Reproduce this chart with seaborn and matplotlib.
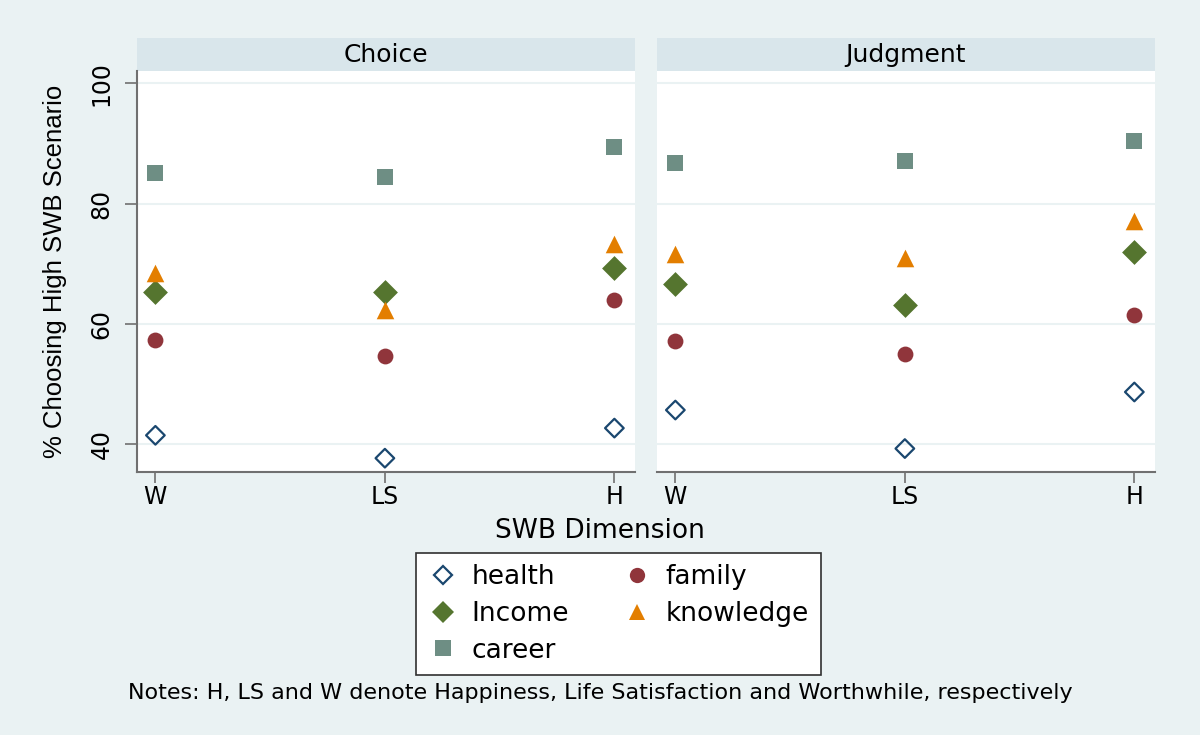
import pandas as pd
import matplotlib.pyplot as plt
import seaborn as sns
from matplotlib.patches import Rectangle
from matplotlib.lines import Line2D

# datos
dimensiones = ['W', 'LS', 'H']
paneles = ['Choice', 'Judgment']

choice_health = [41.5, 37.7, 42.7]
choice_family = [57.3, 54.6, 64.0]
choice_income = [65.3, 65.3, 69.3]
choice_knowledge = [68.4, 62.3, 73.3]
choice_career = [85.1, 84.4, 89.4]

judgment_health = [45.7, 39.3, 48.7]
judgment_family = [57.1, 55.0, 61.5]
judgment_income = [66.7, 63.2, 72.0]
judgment_knowledge = [71.6, 70.9, 77.2]
judgment_career = [86.7, 87.1, 90.4]

series = ['health', 'family', 'Income', 'knowledge', 'career']
valores = {
    'Choice': [choice_health, choice_family, choice_income, choice_knowledge, choice_career],
    'Judgment': [judgment_health, judgment_family, judgment_income, judgment_knowledge, judgment_career],
}

colores = {'health': '#1a476f', 'family': '#90353b', 'Income': '#55752f',
           'knowledge': '#e37e00', 'career': '#6e8e84'}
marcadores = {'health': 'D', 'family': 'o', 'Income': 'D', 'knowledge': '^', 'career': 's'}
tamanos = {'health': 90, 'family': 130, 'Income': 160, 'knowledge': 160, 'career': 130}

filas = []
for p in paneles:
    for s, vals in zip(series, valores[p]):
        for d, v in zip(dimensiones, vals):
            filas.append({'panel': p, 'serie': s, 'dim': d, 'valor': v})
df = pd.DataFrame(filas)
df['pos'] = df['dim'].map({d: i for i, d in enumerate(dimensiones)})

sns.set_style('white')
plt.rcParams['font.family'] = ['DejaVu Sans']
plt.rcParams['text.color'] = 'black'
plt.rcParams['xtick.color'] = 'black'
plt.rcParams['ytick.color'] = 'black'
fuente_rot = ['Liberation Sans', 'DejaVu Sans']

fondo = '#eaf2f3'
gris = '#707070'
fig = plt.figure(figsize=(12, 7.35), dpi=100)
fig.patch.set_facecolor(fondo)

ejes = [fig.add_axes([0.1142, 0.3578, 0.415, 0.546]),
        fig.add_axes([0.5475, 0.3578, 0.415, 0.546])]

for ax, p in zip(ejes, paneles):
    sub = df[df['panel'] == p]
    for s in series:
        d = sub[sub['serie'] == s]
        if s == 'health':
            sns.scatterplot(data=d, x='pos', y='valor', ax=ax, marker='D', s=tamanos[s],
                            color=colores[s], linewidth=1.6, zorder=3)
            ax.collections[-1].set_facecolor('none')
            ax.collections[-1].set_edgecolor(colores[s])
        else:
            sns.scatterplot(data=d, x='pos', y='valor', ax=ax, marker=marcadores[s],
                            s=tamanos[s], color=colores[s], linewidth=0, zorder=3)
    ax.set_facecolor('white')
    ax.set_xlim(-0.08, 2.09)
    ax.set_ylim(35.4, 102.1)
    ax.set_yticks([40, 60, 80, 100])
    ax.set_xticks([0, 1, 2])
    ax.set_xticklabels(dimensiones, fontsize=17)
    ax.grid(axis='y', color=fondo, linewidth=1.5)
    ax.set_axisbelow(True)
    ax.set_xlabel('')
    ax.set_ylabel('')
    for lado in ['top', 'right']:
        ax.spines[lado].set_visible(False)
    ax.spines['bottom'].set_color(gris)
    ax.spines['bottom'].set_linewidth(1.5)
    ax.tick_params(axis='x', length=8, width=1.2, color=gris, bottom=True, pad=1)
    # franja del panel
    ax.add_patch(Rectangle((0, 1), 1, 0.0815, transform=ax.transAxes, clip_on=False,
                           facecolor='#d9e6eb', edgecolor='none'))
    ax.text(0.5, 1.04, p, transform=ax.transAxes, ha='center', va='center', fontsize=18)

izq, der = ejes
izq.spines['left'].set_color(gris)
izq.spines['left'].set_linewidth(1.5)
izq.tick_params(axis='y', length=9, width=1.2, color=gris, left=True, labelsize=17, pad=8,
                labelrotation=90)
for t in izq.get_yticklabels():
    t.set_va('center')
der.spines['left'].set_visible(False)
der.tick_params(axis='y', left=False, labelleft=False)

fig.text(0.046, 0.6308, '% Choosing High SWB Scenario', rotation=90, ha='center', va='center',
         fontsize=18.5, family=fuente_rot)
fig.text(0.5, 0.277, 'SWB Dimension', ha='center', va='center', fontsize=19)

manejadores = []
for s in ['health', 'Income', 'career', 'family', 'knowledge']:
    if s == 'health':
        h = Line2D([], [], linestyle='none', marker='D', markersize=9, markerfacecolor='none',
                   markeredgecolor=colores[s], markeredgewidth=1.6)
    else:
        h = Line2D([], [], linestyle='none', marker=marcadores[s], markersize=11,
                   color=colores[s], markeredgewidth=0)
    manejadores.append(h)
etiquetas = ['health', 'Income', 'career', 'family', 'knowledge']
ley = fig.legend(manejadores, etiquetas, ncol=2, loc='center', bbox_to_anchor=(0.5154, 0.1646),
                 fontsize=19, frameon=True, fancybox=False, edgecolor='#303030', framealpha=1,
                 columnspacing=2.0, handlelength=1.1, handletextpad=0.55, labelspacing=0.4,
                 borderpad=0.45)
ley.get_frame().set_facecolor('white')
ley.get_frame().set_linewidth(1.2)

fig.text(0.5, 0.057, 'Notes: H, LS and W denote Happiness, Life Satisfaction and Worthwhile, respectively',
         ha='center', va='center', fontsize=16)

plt.savefig('out.png', dpi=100, facecolor=fondo)
